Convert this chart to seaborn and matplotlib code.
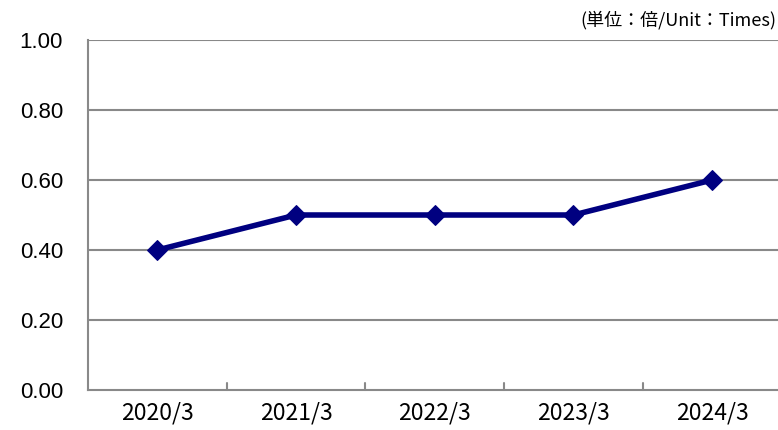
import matplotlib
matplotlib.use("Agg")
import matplotlib.pyplot as plt
import pandas as pd
import seaborn as sns

periods = ["2020/3", "2021/3", "2022/3", "2023/3", "2024/3"]
ratio = [0.40, 0.50, 0.50, 0.50, 0.60]
y_ticks = [0.0, 0.2, 0.4, 0.6, 0.8, 1.0]
unit_label = "(単位：倍/Unit：Times)"

sns.set_theme(style="white")
plt.rcParams["font.family"] = ["Liberation Sans", "Noto Sans CJK JP", "DejaVu Sans"]

df = pd.DataFrame({"period": periods, "ratio": ratio})

fig = plt.figure(figsize=(7.78, 4.3), dpi=100)
ax = fig.add_axes([88 / 778, 40 / 430, 693.5 / 778, 350 / 430])

grid_col = "#898989"
for y in y_ticks[1:]:
    ax.axhline(y, color=grid_col, linewidth=1.5, zorder=1)

sns.lineplot(data=df, x="period", y="ratio", sort=False, ax=ax,
             color="#000080", linewidth=4, marker="D", markersize=10,
             markeredgecolor="#000080", zorder=3)

ax.set_xlim(-0.5, len(periods) - 0.5)
ax.set_ylim(0, 1.0)
ax.set_yticks(y_ticks)
ax.set_yticklabels([f"{v:.2f}" for v in y_ticks], fontsize=16, color="black")
ax.set_xticks(range(len(periods)))
ax.set_xticklabels(periods, fontsize=16.5, color="black",
                   family=["Noto Sans CJK JP", "DejaVu Sans"])
ax.tick_params(axis="x", length=0, pad=8)
ax.tick_params(axis="y", length=0, pad=18)

# small inward ticks between categories
for b in range(1, len(periods)):
    ax.plot([b - 0.5, b - 0.5], [0, 0.02], color=grid_col, linewidth=1.5,
            clip_on=False, zorder=2)

ax.set_xlabel("")
ax.set_ylabel("")
for side in ["top", "right"]:
    ax.spines[side].set_visible(False)
for side in ["left", "bottom"]:
    ax.spines[side].set_color(grid_col)
    ax.spines[side].set_linewidth(1.5)

fig.text(776 / 778, 1 - 20 / 430, unit_label, ha="right", va="center",
         fontsize=13, color="black", family=["Noto Sans CJK JP", "DejaVu Sans"])

fig.savefig("out.png", dpi=100)
